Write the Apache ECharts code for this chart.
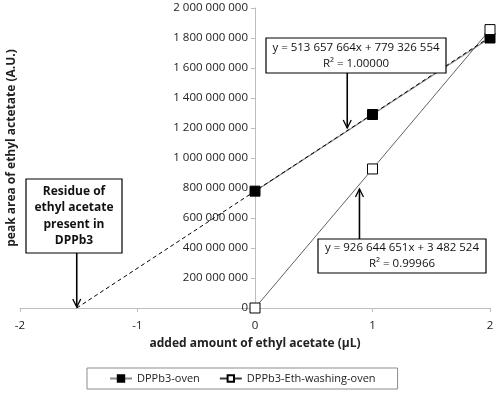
<!DOCTYPE html>
<html>
<head>
<meta charset="utf-8">
<script src="https://cdn.jsdelivr.net/npm/echarts@6/dist/echarts.min.js"></script>
<style>
  html, body { margin: 0; padding: 0; background: #fff; }
  #chart { width: 500px; height: 393px; }
</style>
</head>
<body>
<div id="chart"></div>
<script>
// data
const ovenX = [0, 1, 2];
const ovenY = [779000000, 1290000000, 1800000000];
const washX = [0, 1, 2];
const washY = [0, 927000000, 1856000000];
// dashed trend line of DPPb3-oven, from the x intercept to x = 2
const trendX = [-1.517, 2];
const trendY = [0, 1806600000];

const xTicks = [-2, -1, 0, 1, 2];
const yMax = 2000000000;

const eq1 = ['y = 513 657 664x + 779 326 554', 'R² = 1.00000'];
const eq2 = ['y = 926 644 651x + 3 482 524', 'R² = 0.99966'];
const residueText = ['Residue of', 'ethyl acetate', 'present in', 'DPPb3'];

const fontFam = '"Open Sans", "DejaVu Sans", sans-serif';

function spaced(v) {
  return String(v).replace(/\B(?=(\d{3})+(?!\d))/g, ' ');
}
function pairs(xs, ys) {
  return xs.map((x, i) => [x, ys[i]]);
}

const gridLeft = 20, gridRight = 10;
const gridW = 500 - gridLeft - gridRight;
// y axis sits at x = 0, in the middle of the -2..2 range
const yAxisShift = gridW * (0 - xTicks[0]) / (xTicks[xTicks.length - 1] - xTicks[0]);

const chart = echarts.init(document.getElementById('chart'));

const option = {
  animation: false,
  textStyle: { fontFamily: fontFam },
  grid: { left: gridLeft, right: gridRight, top: 8, bottom: 85, containLabel: false, outerBoundsMode: 'none' },
  legend: {
    data: ['DPPb3-oven', 'DPPb3-Eth-washing-oven'],
    left: 87,
    top: 368,
    padding: [5, 22, 5, 22],
    itemGap: 19,
    itemWidth: 22,
    itemHeight: 8,
    borderColor: '#8c8c8c',
    borderWidth: 1,
    textStyle: { fontSize: 11, color: '#222', fontFamily: fontFam }
  },
  xAxis: {
    type: 'value',
    min: xTicks[0],
    max: xTicks[xTicks.length - 1],
    interval: 1,
    splitLine: { show: false },
    axisLine: { lineStyle: { color: '#bdbdbd' } },
    axisTick: { show: true, length: 4, lineStyle: { color: '#bdbdbd' } },
    axisLabel: { fontSize: 11.5, color: '#222', margin: 12 },
    name: 'added amount of ethyl acetate (µL)',
    nameLocation: 'middle',
    nameGap: 30,
    nameTextStyle: { fontWeight: 'bold', fontSize: 12, color: '#222' }
  },
  yAxis: {
    type: 'value',
    min: 0,
    max: yMax,
    interval: 200000000,
    offset: -yAxisShift,
    splitLine: { show: false },
    axisLine: { show: true, onZero: false, lineStyle: { color: '#bdbdbd' } },
    axisTick: { show: true, length: 4, lineStyle: { color: '#bdbdbd' } },
    axisLabel: { fontSize: 11.5, color: '#222', margin: 7, formatter: v => spaced(v) }
  },
  series: [
    {
      name: 'DPPb3-oven',
      type: 'line',
      data: pairs(ovenX, ovenY),
      symbol: 'rect',
      symbolSize: 10,
      itemStyle: { color: '#000', borderColor: '#000', borderWidth: 1 },
      lineStyle: { color: '#8a8a8a', width: 1.2 },
      z: 3
    },
    {
      name: 'oven trend',
      type: 'line',
      data: pairs(trendX, trendY),
      symbol: 'none',
      lineStyle: { color: '#000', width: 1, type: [4, 3] },
      z: 4
    },
    {
      name: 'DPPb3-Eth-washing-oven',
      type: 'line',
      data: pairs(washX, washY),
      symbol: 'rect',
      symbolSize: 10,
      itemStyle: { color: '#fff', borderColor: '#000', borderWidth: 1 },
      lineStyle: { color: '#3a3a3a', width: 0.8 },
      z: 3
    }
  ],
  graphic: [
    {
      type: 'text',
      x: 12,
      y: 148,
      rotation: Math.PI / 2,
      style: {
        text: 'peak area of ethyl actetate (A.U.)',
        font: 'bold 12px ' + fontFam,
        fill: '#222',
        align: 'center',
        verticalAlign: 'middle'
      }
    }
  ]
};

chart.setOption(option);

// annotation boxes with arrows pointing to spots on the plot
function arrow(x, y0, y1) {
  const dir = y1 > y0 ? 1 : -1;
  return [
    { type: 'line', shape: { x1: x, y1: y0, x2: x, y2: y1 }, style: { stroke: '#000', lineWidth: 1.6 }, z: 10 },
    { type: 'polyline', shape: { points: [[x - 4, y1 - dir * 8], [x, y1], [x + 4, y1 - dir * 8]] }, style: { stroke: '#000', lineWidth: 1.3, fill: null }, z: 10 }
  ];
}
function box(l, t, w, h, lines, font, lh) {
  const items = [{ type: 'rect', shape: { x: l, y: t, width: w, height: h }, style: { fill: '#fff', stroke: '#000', lineWidth: 1.2 }, z: 10 }];
  const start = t + h / 2 - (lines.length - 1) * lh / 2;
  lines.forEach((s, i) => {
    items.push({ type: 'text', x: l + w / 2, y: start + i * lh, style: { text: s, font: font, fill: '#111', align: 'center', verticalAlign: 'middle' }, z: 11 });
  });
  return items;
}

const tip1 = chart.convertToPixel('grid', [0.785, 1200000000]);
const tip2 = chart.convertToPixel('grid', [0.889, 793000000]);
const tip3 = chart.convertToPixel('grid', [trendX[0], 0]);

const g = [].concat(
  box(266, 38, 180, 35, eq1, '11.5px ' + fontFam, 16),
  arrow(tip1[0], 73, tip1[1]),
  box(318, 239, 168, 34, eq2, '11.5px ' + fontFam, 16),
  arrow(tip2[0], 239, tip2[1]),
  box(26, 179, 96, 74, residueText, 'bold 12px ' + fontFam, 16.3),
  arrow(tip3[0], 253, tip3[1] - 1)
);

chart.setOption({ graphic: option.graphic.concat(g) });
</script>
</body>
</html>
